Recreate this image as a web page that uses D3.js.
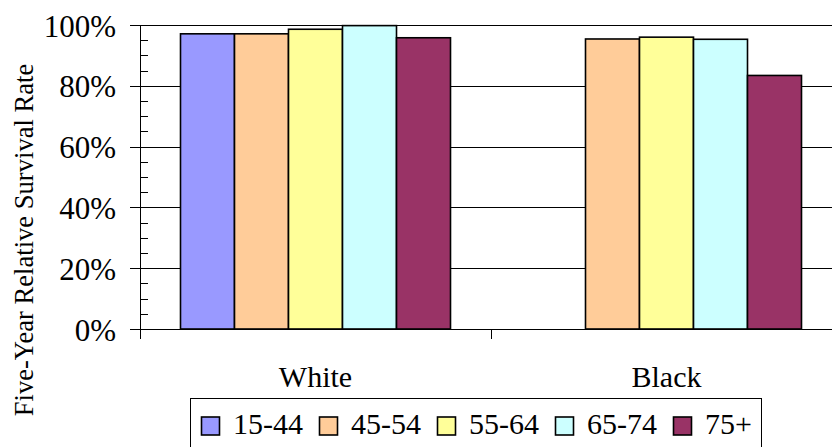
<!DOCTYPE html>
<html>
<head>
<meta charset="utf-8">
<script src="https://cdn.jsdelivr.net/npm/d3@7"></script>
<style>
  html, body { margin: 0; padding: 0; background: #fff; }
  svg { display: block; }
  svg text { font-family: "Liberation Serif", "Times New Roman", Times, "Tinos", "DejaVu Serif", serif !important; fill: #000; }
</style>
</head>
<body>
<svg id="chart" width="832" height="447"></svg>
<script>
const categories = ["White", "Black"];
const seriesNames = ["15-44", "45-54", "55-64", "65-74", "75+"];
const whiteValues = [97.1, 97.1, 98.6, 99.8, 95.8];
const blackValues = [null, 95.4, 96.0, 95.3, 83.4];
const seriesColors = ["#9999FF", "#FFCC99", "#FFFF99", "#CCFFFF", "#993366"];
const yTickValues = [0, 20, 40, 60, 80, 100];
const yMinorTicks = [5, 10, 15, 25, 30, 35, 45, 50, 55, 65, 70, 75, 85, 90, 95];
const yTitle = "Five-Year Relative Survival Rate";

(function () {
const valuesByCategory = { White: whiteValues, Black: blackValues };
const FONT = '"Liberation Serif", "Times New Roman", Times, Tinos, "DejaVu Serif", serif';

const svg = d3.select("#chart");
const pLeft = 140, pTop = 25, pBottom = 329, pRight = 842;

const y = d3.scaleLinear().domain([0, 100]).range([pBottom, pTop]);
const x = d3.scaleBand().domain(categories).range([pLeft, pRight]).padding(0);
const xs = d3.scaleBand().domain(seriesNames).range([0, x.bandwidth()])
  .paddingInner(0).paddingOuter(0.75);

// gridlines
svg.append("g")
  .attr("transform", `translate(${pLeft},0)`)
  .call(d3.axisRight(y).tickValues(yTickValues.filter(v => v > 0)).tickSize(832 - pLeft).tickFormat(""))
  .call(g => g.select(".domain").remove())
  .call(g => g.selectAll("line").attr("stroke", "#000").attr("stroke-width", 1).attr("shape-rendering", "crispEdges"));

// bars
const flat = [];
categories.forEach(c => {
  valuesByCategory[c].forEach((v, i) => {
    if (v != null) flat.push({ cat: c, s: seriesNames[i], v, color: seriesColors[i] });
  });
});
svg.append("g").selectAll("rect").data(flat).join("rect")
  .attr("x", d => x(d.cat) + xs(d.s))
  .attr("y", d => y(d.v))
  .attr("width", xs.bandwidth())
  .attr("height", d => y(0) - y(d.v))
  .attr("fill", d => d.color)
  .attr("stroke", "#000")
  .attr("stroke-width", 1.6);

// minor ticks (inside)
svg.append("g")
  .attr("transform", `translate(${pLeft},0)`)
  .call(d3.axisRight(y).tickValues(yMinorTicks).tickSize(8).tickFormat(""))
  .call(g => g.select(".domain").remove())
  .call(g => g.selectAll("line").attr("stroke", "#000").attr("shape-rendering", "crispEdges"));

// major axis
const yAxis = svg.append("g")
  .attr("transform", `translate(${pLeft},0)`)
  .call(d3.axisLeft(y).tickValues(yTickValues).tickSize(10).tickSizeOuter(0).tickPadding(14)
    .tickFormat(d => d + "%"));
yAxis.attr("font-family", FONT).attr("font-size", 31);
yAxis.select(".domain").attr("stroke", "#000").attr("shape-rendering", "crispEdges");
yAxis.selectAll("line").attr("stroke", "#000").attr("shape-rendering", "crispEdges");
yAxis.selectAll("text").attr("font-size", 31).attr("dy", "0.355em").attr("font-family", FONT);

// x axis line and ticks at category boundaries
const xb = svg.append("g");
xb.append("line").attr("x1", pLeft).attr("x2", 832).attr("y1", y(0)).attr("y2", y(0))
  .attr("stroke", "#000").attr("shape-rendering", "crispEdges");
xb.selectAll("line.tk").data(categories).join("line").attr("class", "tk")
  .attr("x1", d => x(d)).attr("x2", d => x(d))
  .attr("y1", y(0)).attr("y2", y(0) + 10)
  .attr("stroke", "#000").attr("shape-rendering", "crispEdges");
xb.selectAll("text").data(categories).join("text")
  .attr("x", d => x(d) + x.bandwidth() / 2)
  .attr("y", 387)
  .attr("text-anchor", "middle")
  .attr("font-family", FONT)
  .attr("font-size", 30)
  .text(d => d);

// y title
svg.append("text")
  .attr("transform", "translate(33,240) rotate(-90)")
  .attr("text-anchor", "middle")
  .attr("font-family", FONT)
  .attr("font-size", 26.6)
  .text(yTitle);

// legend
const lg = svg.append("g");
lg.append("rect").attr("x", 190.5).attr("y", 398.5).attr("width", 571).attr("height", 70)
  .attr("fill", "#fff").attr("stroke", "#000").attr("stroke-width", 1);
const items = lg.selectAll("g.item").data(seriesNames).join("g").attr("class", "item")
  .attr("transform", (d, i) => `translate(${201 + i * 118},0)`);
items.append("rect").attr("x", 0.5).attr("y", 417).attr("width", 18).attr("height", 18)
  .attr("fill", (d, i) => seriesColors[i]).attr("stroke", "#000").attr("stroke-width", 1.6);
items.append("text").attr("x", 32).attr("y", 434).attr("font-family", FONT).attr("font-size", 30).text(d => d);
})();
</script>
</body>
</html>
